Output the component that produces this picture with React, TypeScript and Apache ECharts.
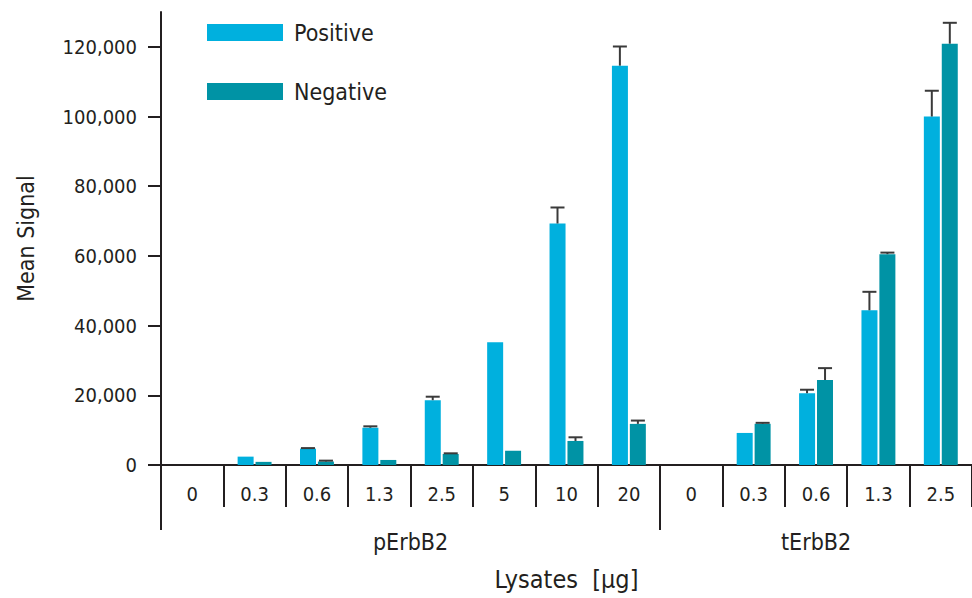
import React, { useEffect, useRef } from "react";
import * as echarts from "echarts";

const categories = ["0", "0.3", "0.6", "1.3", "2.5", "5", "10", "20", "0", "0.3", "0.6", "1.3", "2.5"];
const groupLabels = ["pErbB2", "tErbB2"];
const groupBoundaries = [0, 8];
const groupCenters = [4, 10.5];
const positiveValues = [0, 2400, 4700, 10700, 18600, 35200, 69300, 114600, 0, 9200, 20600, 44400, 100000];
const positiveErrTop = [null, null, 4850, 11100, 19600, null, 73900, 120100, null, null, 21600, 49700, 107400];
const negativeValues = [0, 900, 1000, 1450, 3150, 4100, 6900, 11800, 0, 11830, 24400, 60500, 120900];
const negativeErrTop = [null, null, 1250, null, 3350, null, 7950, 12750, null, 12100, 27800, 60950, 126900];
const yTicks = [0, 20000, 40000, 60000, 80000, 100000, 120000];

const FONT = "'DejaVu Sans Condensed', 'Liberation Sans Narrow', 'Liberation Sans', sans-serif";
const INK = "#231f20";
const POS = "#00B0DE";
const NEG = "#0093A5";
const BAR_W = 16;
const BAR_OFF = 9;

function errData(vals: number[], tops: (number | null)[]) {
  const out: any[] = [];
  vals.forEach((v, i) => {
    if (tops[i] != null) out.push([i, v, tops[i]]);
  });
  return out;
}

function errSeries(name: string, vals: number[], tops: (number | null)[], off: number) {
  return {
    type: "custom",
    name: name + " error",
    xAxisIndex: 0,
    yAxisIndex: 0,
    silent: true,
    z: 3,
    data: errData(vals, tops),
    renderItem: (params: any, api: any) => {
      const base = api.coord([api.value(0), api.value(1)]);
      const top = api.coord([api.value(0), api.value(2)]);
      const x = base[0] + off;
      const style = { stroke: "#3a3a3a", lineWidth: 2 };
      return {
        type: "group",
        children: [
          { type: "line", shape: { x1: x, y1: base[1], x2: x, y2: top[1] }, style },
          { type: "line", shape: { x1: x - 7, y1: top[1], x2: x + 7, y2: top[1] }, style },
        ],
      };
    },
  };
}

export default function App() {
  const ref = useRef<HTMLDivElement>(null);
  useEffect(() => {
    if (!ref.current) return;
    const chart = echarts.init(ref.current, undefined, { renderer: "svg" });
    chart.setOption({
      animation: false,
      backgroundColor: "#ffffff",
      textStyle: { fontFamily: FONT, color: INK },
      legend: {
        orient: "vertical",
        left: 207,
        top: 19,
        padding: 0,
        itemWidth: 76,
        itemHeight: 17,
        itemGap: 32,
        icon: "rect",
        data: ["Positive", "Negative"],
        textStyle: { fontFamily: FONT, fontSize: 23, color: INK, padding: [0, 0, 0, 6], lineHeight: 27 },
      },
      grid: { left: 161, top: 12, width: 815, height: 453, containLabel: false },
      xAxis: [
        {
          type: "category",
          data: categories,
          boundaryGap: true,
          position: "bottom",
          axisLine: { show: true, lineStyle: { color: INK, width: 2 } },
          axisTick: { show: true, inside: false, length: 42, lineStyle: { color: INK, width: 2 } },
          axisLabel: { interval: 0, margin: 19, fontSize: 20, color: INK, fontFamily: FONT },
          name: "Lysates  [\u03bcg]",
          nameLocation: "middle",
          nameGap: 102,
          nameTextStyle: { fontSize: 25, color: INK, fontFamily: FONT },
          splitLine: { show: false },
        },
        {
          type: "value",
          min: 0,
          max: categories.length,
          position: "bottom",
          axisLine: { show: false },
          axisTick: { show: true, inside: false, length: 65, customValues: groupBoundaries, lineStyle: { color: INK, width: 2 } },
          axisLabel: {
            show: true,
            margin: 65,
            fontSize: 23,
            color: INK,
            fontFamily: FONT,
            customValues: groupCenters,
            formatter: (v: number) => groupLabels[groupCenters.indexOf(v)] ?? "",
          },
          splitLine: { show: false },
        },
      ],
      yAxis: {
        type: "value",
        min: 0,
        max: 130000,
        interval: 20000,
        axisLine: { show: true, lineStyle: { color: INK, width: 2 } },
        axisTick: { show: true, inside: false, length: 13, customValues: yTicks, lineStyle: { color: INK, width: 2 } },
        axisLabel: {
          margin: 24,
          fontSize: 20,
          color: INK,
          fontFamily: FONT,
          customValues: yTicks,
          formatter: (v: number) => v.toLocaleString("en-US"),
        },
        splitLine: { show: false },
        name: "Mean Signal",
        nameLocation: "middle",
        nameRotate: 90,
        nameGap: 124,
        nameTextStyle: { fontSize: 23, color: INK, fontFamily: FONT },
      },
      series: [
        {
          type: "bar",
          name: "Positive",
          data: positiveValues,
          barWidth: BAR_W,
          barGap: "12%",
          itemStyle: { color: POS },
          z: 2,
        },
        {
          type: "bar",
          name: "Negative",
          data: negativeValues,
          barWidth: BAR_W,
          barGap: "12%",
          itemStyle: { color: NEG },
          z: 2,
        },
        errSeries("Positive", positiveValues, positiveErrTop, -BAR_OFF),
        errSeries("Negative", negativeValues, negativeErrTop, BAR_OFF),
      ],
    });
    return () => chart.dispose();
  }, []);
  return <div ref={ref} style={{ position: "fixed", left: 0, top: 0, width: 972, height: 598 }} />;
}
